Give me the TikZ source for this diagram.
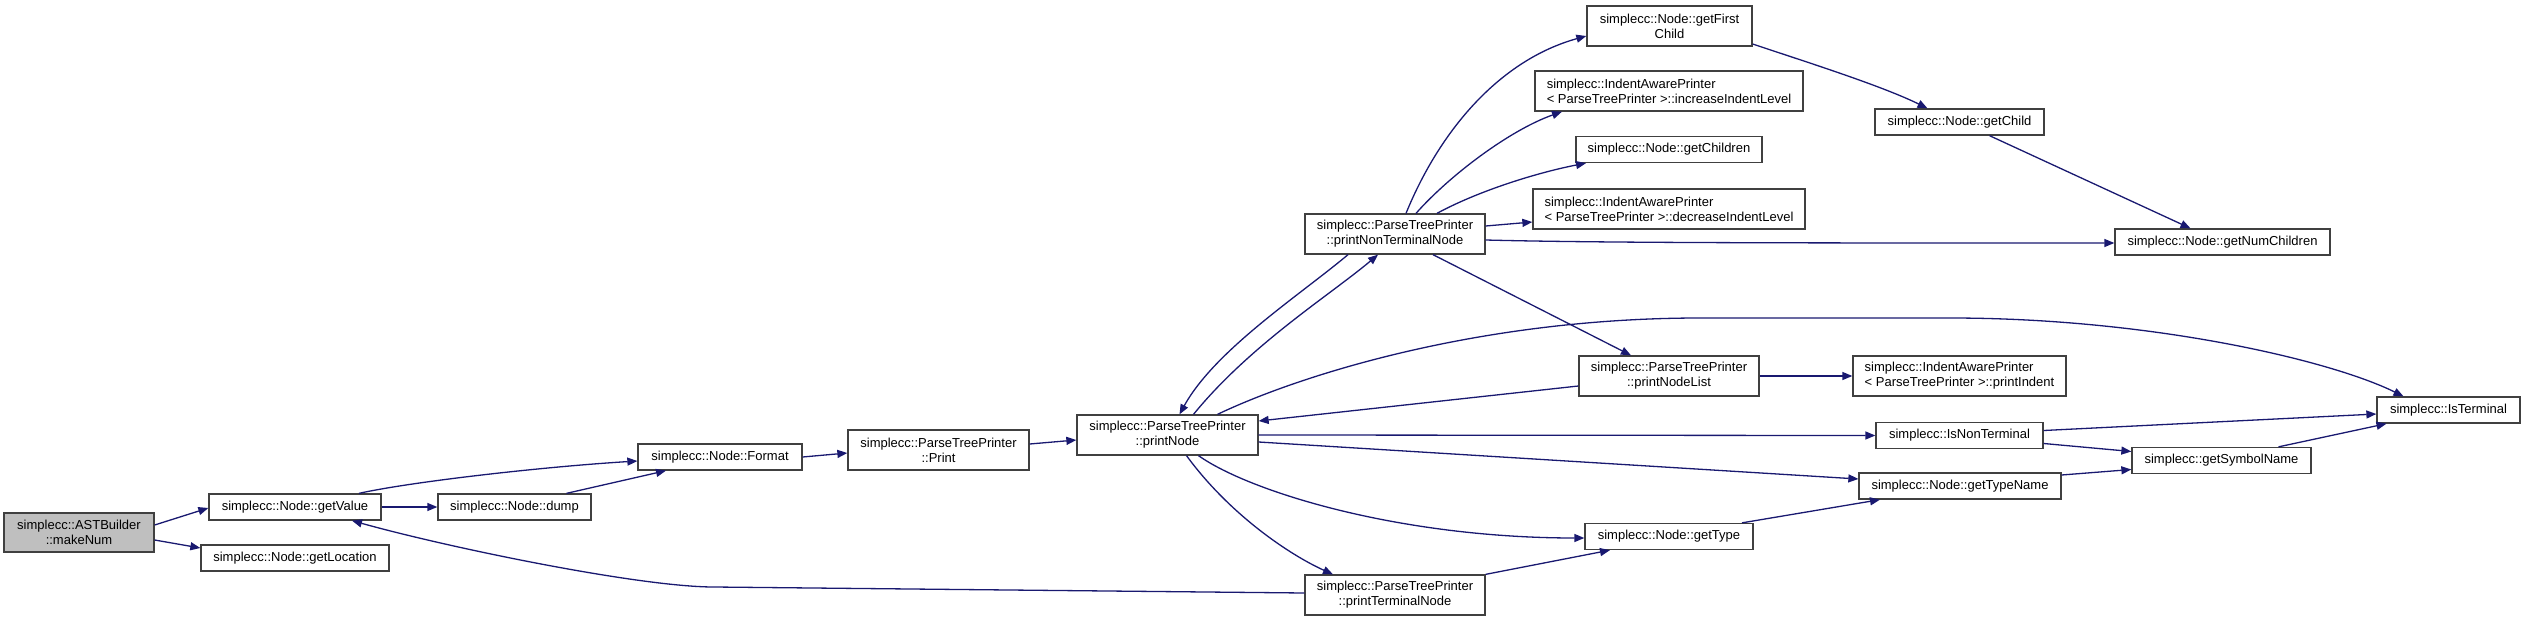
\documentclass[tikz,border=0pt]{standalone}
\usepackage{fontspec}
\setmainfont{Liberation Sans}
\usetikzlibrary{arrows.meta,calc}
\definecolor{edgec}{HTML}{191970}
\definecolor{boxc}{HTML}{404040}
\definecolor{grayfill}{HTML}{BFBFBF}
\begin{document}
\begin{tikzpicture}[x=1pt,y=-1pt,
  fn/.style={draw=boxc,line width=1.3pt,fill=white,inner sep=0pt,align=center,
    font=\fontsize{13}{15}\selectfont},
  fnl/.style={fn,align=left},
  cg/.style={edgec,line width=1.3pt,-{Triangle[length=10pt,width=8pt]}}]
\useasboundingbox (0,0) rectangle (2525,621);
% nodes
\node[fn,fill=grayfill,minimum width=150,minimum height=39] (makeNum) at (79,532.5) {simplecc::ASTBuilder\\::makeNum};
\node[fn,minimum width=172,minimum height=26] (getValue) at (295,507) {simplecc::Node::getValue};
\node[fn,minimum width=188,minimum height=26] (getLocation) at (295,558) {simplecc::Node::getLocation};
\node[fn,minimum width=153,minimum height=26] (dump) at (514.5,507) {simplecc::Node::dump};
\node[fn,minimum width=164,minimum height=26] (Format) at (720,457) {simplecc::Node::Format};
\node[fn,minimum width=181,minimum height=40] (Print) at (938.5,450) {simplecc::ParseTreePrinter\\::Print};
\node[fn,minimum width=181,minimum height=40] (printNode) at (1167.5,435) {simplecc::ParseTreePrinter\\::printNode};
\node[fn,minimum width=180,minimum height=40] (printNTN) at (1395,234) {simplecc::ParseTreePrinter\\::printNonTerminalNode};
\node[fn,minimum width=180,minimum height=40] (printTN) at (1395,595) {simplecc::ParseTreePrinter\\::printTerminalNode};
\node[fn,minimum width=165,minimum height=40] (getFirstChild) at (1669.5,26) {simplecc::Node::getFirst\\Child};
\node[fnl,minimum width=268,minimum height=40] (increase) at (1669,91) {simplecc::IndentAwarePrinter\\< ParseTreePrinter >::increaseIndentLevel};
\node[fn,minimum width=186,minimum height=26] (getChildren) at (1669,149.5) {simplecc::Node::getChildren};
\node[fnl,minimum width=272,minimum height=40] (decrease) at (1669,209) {simplecc::IndentAwarePrinter\\< ParseTreePrinter >::decreaseIndentLevel};
\node[fn,minimum width=180,minimum height=40] (printNodeList) at (1669,376) {simplecc::ParseTreePrinter\\::printNodeList};
\node[fn,minimum width=168,minimum height=26] (getType) at (1669,536.5) {simplecc::Node::getType};
\node[fn,minimum width=169,minimum height=26] (getChild) at (1959.5,122) {simplecc::Node::getChild};
\node[fn,minimum width=215,minimum height=26] (getNumChildren) at (2222.5,242) {simplecc::Node::getNumChildren};
\node[fnl,minimum width=213,minimum height=40] (printIndent) at (1959.5,376) {simplecc::IndentAwarePrinter\\< ParseTreePrinter >::printIndent};
\node[fn,minimum width=167,minimum height=26] (IsNonTerminal) at (1959.5,435.5) {simplecc::IsNonTerminal};
\node[fn,minimum width=202,minimum height=26] (getTypeName) at (1960,486) {simplecc::Node::getTypeName};
\node[fn,minimum width=179,minimum height=26] (getSymbolName) at (2221.5,460.5) {simplecc::getSymbolName};
\node[fn,minimum width=143,minimum height=26] (IsTerminal) at (2448.5,410) {simplecc::IsTerminal};
% edges
\draw[cg] ($(makeNum.east)+(0,-7.5)$) -- ($(getValue.west)+(0,1)$);
\draw[cg] ($(makeNum.east)+(0,7.5)$) -- ($(getLocation.west)+(0,-10)$);
\draw[cg] (getValue.east) -- (dump.west);
\draw[cg] ($(getValue.north)+(64,0)$) .. controls (410,482) and (540,467) .. ($(Format.west)+(0,4)$);
\draw[cg] ($(dump.north)+(52,0)$) -- ($(Format.south)+(-54,0)$);
\draw[cg] (Format.east) -- ($(Print.west)+(0,3)$);
\draw[cg] ($(Print.east)+(0,-6)$) -- ($(printNode.west)+(0,5)$);
\draw[cg] ($(printNode.north)+(26,0)$) .. controls (1250,345) and (1330,295) .. ($(printNTN.south)+(-17,0)$);
\draw[cg] ($(printNTN.south)+(-47,0)$) .. controls (1300,295) and (1215,350) .. ($(printNode.north)+(12,0)$);
\draw[cg] ($(printNode.north)+(50,0)$) .. controls (1300,375) and (1480,318) .. (1700,318) -- (1950,318) .. controls (2150,318) and (2330,360) .. ($(IsTerminal.north)+(-45,0)$);
\draw[cg] ($(printNodeList.west)+(0,10)$) -- ($(printNode.east)+(0,-14)$);
\draw[cg] (printNode.east) -- (IsNonTerminal.west);
\draw[cg] ($(printNode.east)+(0,7)$) -- ($(getTypeName.west)+(0,-7)$);
\draw[cg] ($(printNode.south)+(31,0)$) .. controls (1250,492) and (1400,538) .. ($(getType.west)+(0,1.5)$);
\draw[cg] ($(printNode.south)+(19,0)$) .. controls (1230,515) and (1290,555) .. ($(printTN.north)+(-62,0)$);
\draw[cg] (printTN.north east) -- ($(getType.south)+(-59,0)$);
\draw[cg] ($(printTN.west)+(0,-2)$) -- (714,587) .. controls (640,587) and (450,548) .. ($(getValue.south)+(57,0)$);
\draw[cg] ($(printNTN.north)+(11,0)$) .. controls (1440,130) and (1500,60) .. ($(getFirstChild.west)+(0,10)$);
\draw[cg] ($(printNTN.north)+(21,0)$) .. controls (1450,175) and (1510,130) .. ($(increase.south)+(-107,0)$);
\draw[cg] ($(printNTN.north)+(42,0)$) .. controls (1480,190) and (1540,172) .. ($(getChildren.south)+(-83,0)$);
\draw[cg] ($(printNTN.east)+(0,-8)$) -- ($(decrease.west)+(0,13)$);
\draw[cg] ($(printNTN.east)+(0,6)$) .. controls (1600,243) and (1800,243) .. ($(getNumChildren.west)+(0,1)$);
\draw[cg] ($(printNTN.south)+(38,0)$) -- ($(printNodeList.north)+(-38,0)$);
\draw[cg] ($(getFirstChild.east)+(0,18)$) .. controls (1800,60) and (1880,85) .. ($(getChild.north)+(-32,0)$);
\draw[cg] ($(getChild.south)+(30,0)$) -- ($(getNumChildren.north)+(-32,0)$);
\draw[cg] (printNodeList.east) -- (printIndent.west);
\draw[cg] ($(IsNonTerminal.east)+(0,-5)$) -- ($(IsTerminal.west)+(0,4)$);
\draw[cg] ($(IsNonTerminal.east)+(0,8)$) -- ($(getSymbolName.west)+(0,-9)$);
\draw[cg] ($(getSymbolName.north)+(57,0)$) -- ($(IsTerminal.south)+(-62,0)$);
\draw[cg] ($(getTypeName.east)+(0,-11)$) -- ($(getSymbolName.west)+(0,9)$);
\draw[cg] ($(getType.north)+(73,0)$) -- ($(getTypeName.south)+(-80,0)$);
\end{tikzpicture}
\end{document}
